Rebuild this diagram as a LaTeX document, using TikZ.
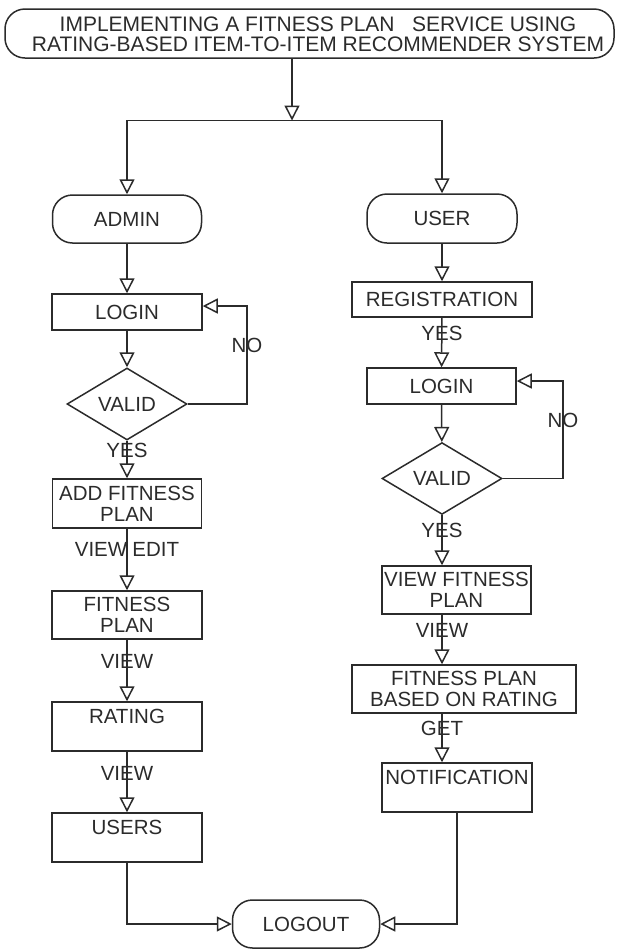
\documentclass[tikz,border=0pt]{standalone}
\usepackage{fontspec}
\setmainfont{Liberation Sans}
\usetikzlibrary{arrows.meta,shapes.geometric}
\definecolor{ink}{HTML}{2B2B2B}
\begin{document}
\begin{tikzpicture}[x=0.5pt,y=-0.5pt,
  every node/.style={text=ink, font=\fontsize{10.25}{10.5}\selectfont},
  box/.style={draw=ink, line width=0.75pt, rectangle, inner sep=0pt, align=center},
  term/.style={box, rounded corners=10pt},
  dec/.style={draw=ink, line width=0.75pt, diamond, inner sep=0pt, minimum width=60pt, minimum height=36pt},
  arr/.style={draw=ink, line width=0.75pt, -{Triangle[open,length=7.5pt,width=7.5pt]}},
  lbl/.style={inner sep=0pt}
]
\useasboundingbox (0,0) rectangle (619,949);

% title
\node[term, minimum width=304.5pt, minimum height=24.5pt] (title) at (309.5,33.5) {};
\node[lbl, align=center, font=\fontsize{10.5}{10pt}\selectfont] (titletext) at (318,34)
  {IMPLEMENTING A FITNESS PLAN\ \ \ SERVICE USING\\RATING-BASED ITEM-TO-ITEM RECOMMENDER SYSTEM};

\coordinate (split) at (292,120.5);
\coordinate (cL) at (127,120.5);
\coordinate (cR) at (442,120.5);

% admin column
\node[term, minimum width=74.5pt, minimum height=24pt] (admin) at (127,219) {ADMIN};
\node[box, minimum width=75pt, minimum height=18pt] (loginA) at (127,312) {LOGIN};
\node[dec] (validA) at (127,404) {VALID};
\coordinate (nA) at (247,306);
\node[box, minimum width=74.5pt, minimum height=24.5pt] (addfp) at (127,503.5) {ADD FITNESS\\PLAN};
\node[box, minimum width=75pt, minimum height=24pt] (fpA) at (127,615) {FITNESS\\PLAN};
\node[box, minimum width=75pt, minimum height=24.5pt] (rating) at (127,726.5) {RATING\\\mbox{}};
\node[box, minimum width=75pt, minimum height=24.5pt] (users) at (127,837.5) {USERS\\\mbox{}};
\node[term, minimum width=73.5pt, minimum height=24pt] (logout) at (306,924) {LOGOUT};

\node[lbl] (noA) at (247,345) {NO};
\node[lbl] (yesA) at (127,450) {YES};
\node[lbl] (editlbl) at (127,549) {VIEW\hspace{2.6pt}EDIT};
\node[lbl] (view1) at (127,661) {VIEW};
\node[lbl] (view2) at (127,773) {VIEW};

% user column
\node[term, minimum width=75pt, minimum height=24.5pt] (user) at (442,218.5) {USER};
\node[box, minimum width=90pt, minimum height=17.5pt] (reg) at (442,299.5) {REGISTRATION};
\node[box, minimum width=74.5pt, minimum height=18pt] (loginU) at (441.5,386) {LOGIN};
\node[dec, minimum height=35.5pt] (validU) at (442,478.5) {VALID};
\coordinate (nU) at (563,381);
\node[box, minimum width=74.5pt, minimum height=24pt] (viewfp) at (456.5,590) {VIEW FITNESS\\PLAN};
\node[box, minimum width=112pt, minimum height=24pt] (fpr) at (464,689) {FITNESS PLAN\\BASED ON RATING};
\node[box, minimum width=75pt, minimum height=24.5pt] (notif) at (457,787.5) {NOTIFICATION\\\mbox{}};
\coordinate (xR) at (442,0);

\node[lbl] (yesR1) at (442,333) {YES};
\node[lbl] (noU) at (563,420) {NO};
\node[lbl] (yesR2) at (442,530) {YES};
\node[lbl] (view3) at (442,630) {VIEW};
\node[lbl] (getl) at (442,728) {GET};

% connectors
\draw[arr] (title.south -| split) -- (split);
\draw[arr] (split) -- (cL) -- (admin.north);
\draw[arr] (split) -- (cR) -- (user.north);

\draw[arr] (admin) -- (loginA);
\draw[arr] (loginA) -- (validA);
\draw[arr] (validA.east) -| (nA) -- (nA -| loginA.east);
\draw[arr] (validA) -- (addfp);
\draw[arr] (addfp) -- (fpA);
\draw[arr] (fpA) -- (rating);
\draw[arr] (rating) -- (users);
\draw[arr] (users.south) -- (users.south |- logout.west) -- (logout.west);

\draw[arr] (user) -- (reg);
\draw[arr] (reg) -- (loginU);
\draw[arr] (loginU) -- (validU);
\draw[arr] (validU.east) -| (nU) -- (nU -| loginU.east);
\draw[arr] (validU.south) -- (viewfp.north -| xR);
\draw[arr] (viewfp.south -| xR) -- (fpr.north -| xR);
\draw[arr] (fpr.south -| xR) -- (notif.north -| xR);
\draw[arr] (notif.south) -- (notif.south |- logout.east) -- (logout.east);
\end{tikzpicture}
\end{document}
